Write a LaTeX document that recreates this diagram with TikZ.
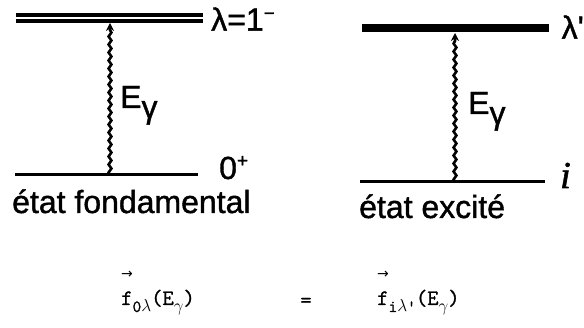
\documentclass[tikz,border=0pt]{standalone}
\usepackage{fontspec}
\usetikzlibrary{arrows.meta, positioning, decorations.pathmorphing}
\newfontfamily\lettering[FakeBold=1.2]{Liberation Sans}
\newfontfamily\italicfont[FakeBold=1.5]{Liberation Serif}
\newfontfamily\formulafont[FakeBold=1.2]{Latin Modern Mono}
\newfontfamily\arrowfont{DejaVu Sans}
\newcommand{\subtt}[1]{\raisebox{-7pt}{\fontsize{17}{17}\selectfont #1}}
\newcommand{\vecf}{\makebox[0pt][l]{\raisebox{26pt}{\arrowfont\fontsize{14}{14}\selectfont →}}f}
\tikzset{
	level/.style={line width=3pt},
	dlevel/.style={double, double distance=1.6pt, line width=3.8pt},
	hlevel/.style={line width=7.5pt},
	photon/.style={line width=2.6pt, decorate,
		decoration={snake, amplitude=1.4pt, segment length=8pt, post length=7pt},
		-{Stealth[length=8pt, width=8pt]}},
	lbl/.style={font=\lettering\fontsize{32}{36}\selectfont, inner sep=0pt},
	formula/.style={font=\formulafont\fontsize{22}{26}\selectfont, inner sep=0pt},
}
\begin{document}
\begin{tikzpicture}[x=1pt, y=-1pt]
	\useasboundingbox (0,0) rectangle (584,328);
	
	% ground state
	\coordinate (gw) at (15,175);
	\coordinate (ge) at (198,175);
	\coordinate (gs) at (110,175);
	\coordinate (lw) at (16,18);
	\coordinate (le) at (203,18);
	\coordinate (ls) at (110,23);
	\draw[level] (gw) -- (ge);
	\draw[dlevel] (lw) -- (le);
	\draw[photon] (gs) -- (ls);
	\node[lbl, anchor=west] (lam) at (211,19) {λ=1\raisebox{11pt}{\fontsize{19}{19}\selectfont −}};
	\node[lbl, anchor=base west] (zero) at (219,179) {0\raisebox{12pt}{\fontsize{19}{19}\selectfont +}};
	\node[lbl, anchor=base west] (egl) at (120,108) {E\raisebox{-10pt}{γ}};
	\node[lbl, anchor=base west] (fond) at (12,213) {état fondamental};
	
	% excited state
	\coordinate (iw) at (360,182);
	\coordinate (ie) at (545,182);
	\coordinate (is) at (455,182);
	\coordinate (pw) at (362,28);
	\coordinate (pe) at (549,28);
	\coordinate (ps) at (455,33);
	\draw[level] (iw) -- (ie);
	\draw[hlevel] (pw) -- (pe);
	\draw[photon] (is) -- (ps);
	\node[lbl, anchor=east] (lamp) at (584,27) {λ'};
	\node[anchor=base west, inner sep=0pt, font=\italicfont\itshape\fontsize{38}{40}\selectfont] (ilev) at (560,188) {i};
	\node[lbl, anchor=base west] (egr) at (468,114) {E\raisebox{-10pt}{γ}};
	\node[lbl, anchor=base west] (exc) at (359,218) {état excité};
	
	% relation
	\node[formula, anchor=base west] (fl) at (121,305) {\vecf\subtt{0$\lambda$}(E\subtt{$\gamma$})};
	\node[formula, anchor=base] (eq) at (306,307) {=};
	\node[formula, anchor=base west] (fr) at (377,305) {\vecf\subtt{i$\lambda$'}(E\subtt{$\gamma$})};
\end{tikzpicture}
\end{document}
